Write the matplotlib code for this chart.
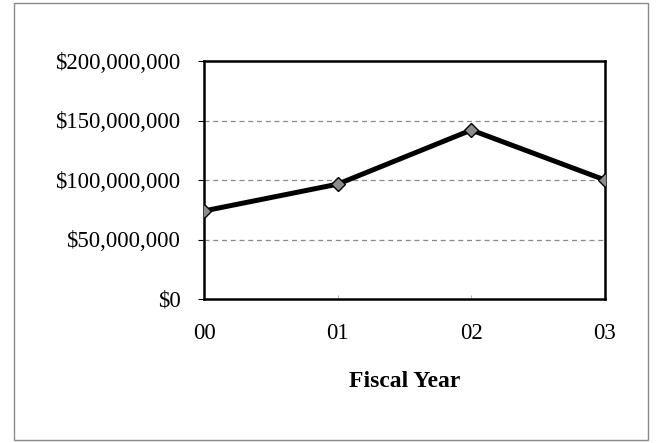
import matplotlib
matplotlib.use("Agg")
import matplotlib.pyplot as plt
from matplotlib.patches import Rectangle
from matplotlib.ticker import FuncFormatter

years = ["00", "01", "02", "03"]
spending = [74_000_000, 96_500_000, 142_000_000, 100_000_000]
y_ticks = [0, 50_000_000, 100_000_000, 150_000_000, 200_000_000]

plt.rcParams["font.family"] = ["Liberation Serif", "DejaVu Serif"]

fig = plt.figure(figsize=(6.57, 4.43), dpi=100)
fig.patch.set_facecolor("white")

# outer frame around the whole chart
fig.patches.append(Rectangle((14 / 657, 3 / 443), (648 - 14) / 657, (440 - 3) / 443,
                             transform=fig.transFigure, fill=False,
                             edgecolor="#8a8a8a", linewidth=1.0))

ax = fig.add_axes([204 / 657, 1 - 299 / 443, (605 - 204) / 657, (299 - 61) / 443])
x = list(range(len(years)))
ax.plot(x, spending, color="black", linewidth=3.6, marker="D", markersize=7.5,
        markerfacecolor="#8c8c8c", markeredgecolor="black", markeredgewidth=1.0,
        zorder=3)

ax.set_xlim(0, len(years) - 1)
ax.set_ylim(y_ticks[0], y_ticks[-1])
ax.set_xticks(x)
ax.set_xticklabels(years)
ax.set_yticks(y_ticks)
ax.yaxis.set_major_formatter(FuncFormatter(lambda v, p: "${:,.0f}".format(v)))

for v in y_ticks[1:-1]:
    ax.axhline(v, color="#8a8a8a", linewidth=0.9, linestyle=(0, (4, 3)), zorder=1)

for s in ax.spines.values():
    s.set_linewidth(1.8)
    s.set_color("black")

ax.tick_params(axis="y", direction="out", length=4, width=0.8, labelsize=16.5, pad=13)
ax.tick_params(axis="x", direction="in", length=3, width=0.6, colors="#aaaaaa",
               labelcolor="black", labelsize=16.5, pad=17)

ax.set_xlabel("Fiscal Year", fontsize=17, fontweight="bold", labelpad=20)

fig.savefig("out.png", dpi=100, facecolor="white")
